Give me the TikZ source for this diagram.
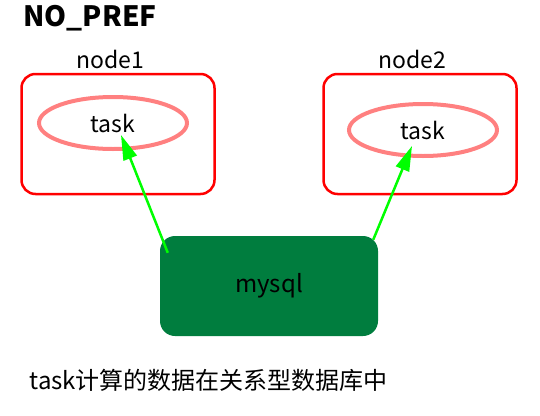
\documentclass[tikz,border=0pt]{standalone}
\usepackage{fontspec}
\setmainfont{Noto Sans CJK SC}
\usepackage{tikz}
\usetikzlibrary{shapes.geometric,arrows.meta,calc}
\definecolor{hostred}{RGB}{255,0,0}
\definecolor{taskpink}{RGB}{255,128,128}
\definecolor{dbgreen}{RGB}{0,125,62}
\definecolor{linkgreen}{RGB}{0,255,0}

\begin{document}
\begin{tikzpicture}[x=1pt,y=-1pt,
    hostbox/.style={draw=hostred,line width=2.5pt,rounded corners=14pt,minimum width=193pt,minimum height=120pt},
    taskell/.style={ellipse,draw=taskpink,line width=4pt,minimum width=148pt,minimum height=52pt,font=\fontsize{23}{23}\selectfont},
    hostlabel/.style={font=\fontsize{23}{23}\selectfont},
    link/.style={linkgreen,line width=2.5pt,-{Triangle[length=25pt,width=14pt]}}]
    \useasboundingbox (0,0) rectangle (540,415);

    % Title
    \node[font=\bfseries\fontsize{28}{28}\selectfont,anchor=west] (title) at (20,18) {NO\_PREF};

    % Hosts with their tasks
    \foreach \n/\hx in {1/118, 2/420} {
        \node[hostbox] (node\n) at (\hx,134) {};
        \node[hostlabel] (label\n) at (\hx-8,59) {node\n};
    }
    \node[taskell] (task1) at (113,123) {task};
    \node[taskell] (task2) at (423,130) {task};

    % Database
    \node[fill=dbgreen,rounded corners=15pt,minimum width=218pt,minimum height=100pt,font=\fontsize{24}{24}\selectfont] (mysql) at (269,286) {mysql};

    % Links
    \coordinate (s1) at ($(mysql.north west)+(8,17)$);
    \coordinate (t1) at ($(task1.center)+(8,12)$);
    \coordinate (s2) at ($(mysql.north east)+(-5,4)$);
    \coordinate (t2) at ($(task2.center)+(-11,16)$);
    \draw[link] (s1) -- (t1);
    \draw[link] (s2) -- (t2);

    % Note
    \node[anchor=west,font=\fontsize{24}{24}\selectfont] (note) at (26,380) {task计算的数据在关系型数据库中};
\end{tikzpicture}
\end{document}
